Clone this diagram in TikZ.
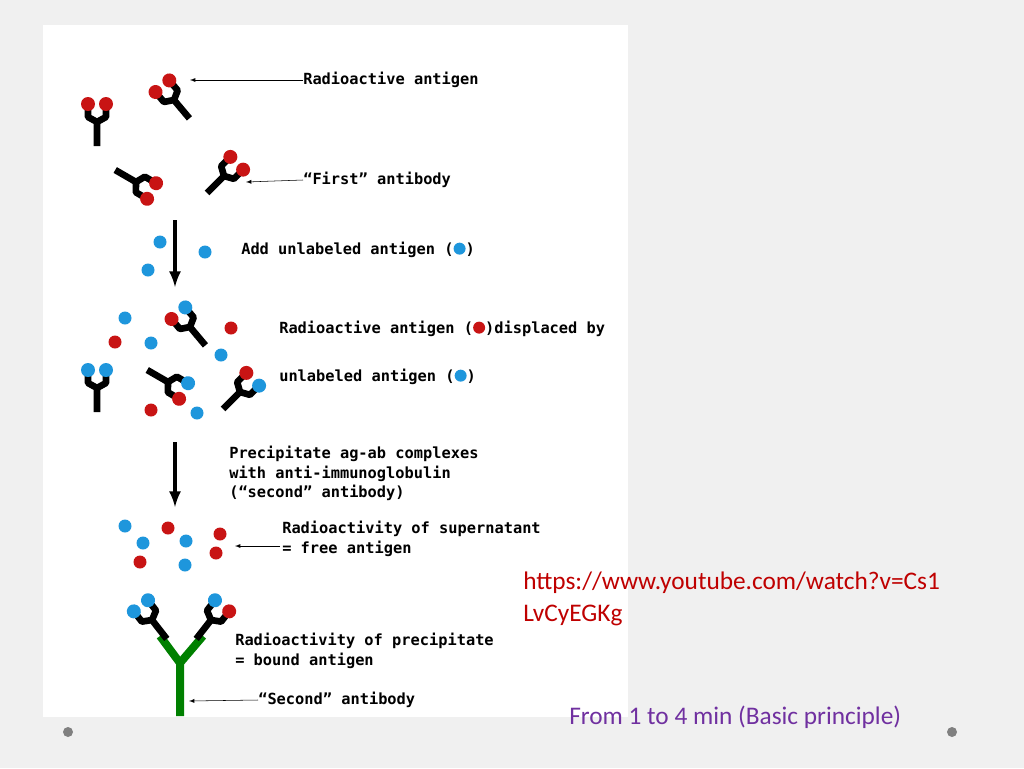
\documentclass[tikz,border=0pt]{standalone}
\usepackage{fontspec}
\setmainfont{Liberation Sans}
\newfontfamily\carlitofont{Carlito}
\newfontfamily\monofont{DejaVu Sans Mono}
\begin{document}
\begin{tikzpicture}[x=0.75pt,y=-0.75pt,
 lbl/.style={anchor=west,font=\monofont\bfseries\fontsize{11.5}{14.5}\selectfont,inner sep=0,align=left},
 ptr/.style={-latex,thin},
 big/.style={-latex,line width=3pt}]
\definecolor{rred}{RGB}{200,20,20}\definecolor{ublue}{RGB}{30,150,220}
\fill[gray!12] (0,0) rectangle (1024,768);
\useasboundingbox (0,0) rectangle (1024,768);
\fill[white] (43,25) rectangle (628,717);
\fill[gray] (68,732) circle (5); \fill[gray] (952,732) circle (5);
\newcommand{\ab}[5]{\begin{scope}[shift={(#1,#2)},rotate=#3]
 \draw[line width=5pt,line join=round] (0,24)--(0,0)--(-9,-5)--(-9,-13);
 \draw[line width=5pt,line join=round] (0,0)--(9,-5)--(9,-13);
 \fill[#4] (-9,-18) circle (7); \fill[#5] (9,-18) circle (7);
 \end{scope}}
% top group
\ab{174}{100}{40}{rred}{rred}
\ab{97}{122}{0}{rred}{rred}
\ab{136}{182}{-120}{rred}{rred}
\ab{224}{176}{-45}{rred}{rred}
\coordinate (ra) at (190,80);
\node[lbl] (t1) at (303,80) {Radioactive antigen};
\draw[ptr] (t1.west)--(ra);
\coordinate (fa) at (246,182);
\node[lbl] (t2) at (303,180) {“First” antibody};
\draw[ptr] (t2.west)--(fa);
\coordinate (a1s) at (175,220); \coordinate (a1e) at (175,287);
\draw[big] (a1s)--(a1e);
\foreach \x/\y in {160/242,205/252,148/270} \fill[ublue] (\x,\y) circle (6.5);
\node[lbl] at (241,250) {Add unlabeled antigen (\tikz\fill[ublue] circle (4.5pt);)};
% middle group
\ab{190}{327}{40}{rred}{ublue}
\ab{97}{388}{0}{ublue}{ublue}
\ab{168}{382}{-120}{ublue}{rred}
\ab{240}{392}{-45}{rred}{ublue}
\foreach \x/\y in {125/318,151/343,221/355,197/413} \fill[ublue] (\x,\y) circle (6.5);
\foreach \x/\y in {115/342,231/328,151/410} \fill[rred] (\x,\y) circle (6.5);
\node[lbl] at (279,329) {Radioactive antigen (\tikz\fill[rred] circle (4.5pt);)displaced by};
\node[lbl] at (279,377) {unlabeled antigen (\tikz\fill[ublue] circle (4.5pt);)};
\coordinate (a2s) at (175,442); \coordinate (a2e) at (175,507);
\draw[big] (a2s)--(a2e);
\node[lbl,anchor=north west] at (229,446) {Precipitate ag-ab complexes\\with anti-immunoglobulin\\(“second” antibody)};
% bottom
\foreach \x/\y in {125/526,143/543,186/541,185/565} \fill[ublue] (\x,\y) circle (6.5);
\foreach \x/\y in {168/528,220/534,140/562,216/553} \fill[rred] (\x,\y) circle (6.5);
\coordinate (sp) at (235,546);
\node[lbl,anchor=north west] (t5) at (282,521) {Radioactivity of supernatant\\= free antigen};
\draw[ptr] (280,546)--(sp);
\draw[green!50!black,line width=6pt] (180,716)--(180,663)--(160,636);
\draw[green!50!black,line width=6pt] (180,663)--(203,636);
\ab{152}{620}{38}{ublue}{ublue}
\ab{211}{620}{-38}{ublue}{rred}
\node[lbl,anchor=north west] at (235,633) {Radioactivity of precipitate\\= bound antigen};
\coordinate (sa) at (189,701);
\node[lbl] (t6) at (258,700) {“Second” antibody};
\draw[ptr] (t6.west)--(sa);
\node[anchor=north west,text=red!75!black,font=\carlitofont\fontsize{19}{24}\selectfont,align=left,inner sep=0] at (523,572) {https://www.youtube.com/watch?v=Cs1\\LvCyEGKg};
\node[anchor=west,text={rgb,255:red,112;green,48;blue,160},font=\carlitofont\fontsize{19}{22}\selectfont,inner sep=0] at (569,717) {From 1 to 4 min (Basic principle)};
\end{tikzpicture}
\end{document}
